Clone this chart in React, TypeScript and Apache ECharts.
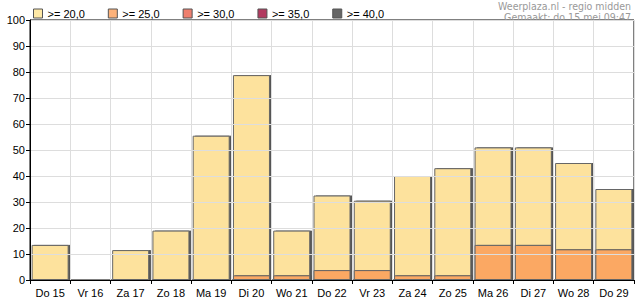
import React, { useEffect, useRef } from "react";
import * as echarts from "echarts";

const categories = ["Do 15", "Vr 16", "Za 17", "Zo 18", "Ma 19", "Di 20", "Wo 21", "Do 22", "Vr 23", "Za 24", "Zo 25", "Ma 26", "Di 27", "Wo 28", "Do 29"];
const ge20 = [13.5, 0, 11.5, 19, 55.5, 78.8, 19, 32.5, 30.5, 40, 43, 51, 51, 45, 35];
const ge25 = [0, 0, 0, 0, 0, 1.8, 1.8, 3.8, 3.8, 1.8, 1.8, 13.5, 13.5, 11.8, 11.8];
const legendNames = [">= 20,0", ">= 25,0", ">= 30,0", ">= 35,0", ">= 40,0"];
const legendColors = ["#FFE9A6", "#FDB27A", "#EE7F6E", "#B23A60", "#666666"];
const yTicks = { min: 0, max: 100, interval: 10 };
const headerLines = ["Weerplaza.nl - regio midden", "Gemaakt: do 15 mei 09:47"];

const FONT = "Liberation Sans, Arial, sans-serif";
const NARROW = "'Liberation Sans Narrow', 'Arial Narrow', 'DejaVu Sans Condensed', sans-serif";

const toData = (arr: number[]) =>
  arr.map((v) =>
    v > 0
      ? v
      : { value: "-", itemStyle: { opacity: 0, borderWidth: 0, shadowColor: "rgba(0,0,0,0)" } }
  );

export default function App() {
  const ref = useRef<HTMLDivElement>(null);
  useEffect(() => {
    const chart = echarts.init(ref.current!, null, { renderer: "svg" });
    const barStyle = (color: string) => ({
      color,
      borderColor: "#666",
      borderWidth: 1,
      shadowColor: "#555",
      shadowBlur: 0,
      shadowOffsetX: 2,
      shadowOffsetY: 0,
    });
    chart.setOption({
      animation: false,
      textStyle: { fontFamily: FONT },
      grid: { left: 30, right: 1, top: 20, bottom: 20, show: true, borderColor: "#000", borderWidth: 1 },
      legend: {
        left: 28,
        top: 3,
        itemWidth: 9,
        itemHeight: 9,
        itemGap: 23,
        icon: "rect",
        textStyle: { fontSize: 11, color: "#000", fontFamily: FONT },
        data: legendNames.map((n, i) => ({ name: n, itemStyle: { color: legendColors[i], borderColor: "#555", borderWidth: 1 } })),
        selectedMode: false,
      },
      graphic: [
        { type: "text", right: 4, top: 0, style: { text: headerLines[0], fill: "#999", font: `10.5px ${NARROW}`, lineHeight: 11 } },
        { type: "text", right: 4, top: 11, style: { text: headerLines[1], fill: "#999", font: `10.5px ${NARROW}`, lineHeight: 11 } },
      ],
      xAxis: {
        type: "category",
        data: categories,
        boundaryGap: true,
        z: 5,
        axisLine: { lineStyle: { color: "#000" } },
        axisTick: { show: true, length: 4, lineStyle: { color: "#000" } },
        axisLabel: { color: "#000", fontSize: 11, margin: 7, interval: 0, fontFamily: FONT },
        splitLine: { show: true, lineStyle: { color: "#ddd" } },
      },
      yAxis: {
        type: "value",
        min: yTicks.min,
        max: yTicks.max,
        interval: yTicks.interval,
        z: 5,
        axisLine: { show: true, lineStyle: { color: "#000" } },
        axisTick: { show: true, length: 4, lineStyle: { color: "#000" } },
        axisLabel: { color: "#000", fontSize: 11, margin: 5, fontFamily: FONT },
        splitLine: { show: true, lineStyle: { color: "#ddd" } },
      },
      series: [
        { name: legendNames[0], type: "bar", data: toData(ge20), barWidth: 37, barGap: "-100%", itemStyle: barStyle("#FDE29D"), z: 2 },
        { name: legendNames[1], type: "bar", data: toData(ge25), barWidth: 37, barGap: "-100%", itemStyle: barStyle("#FBA863"), z: 3 },
        { name: legendNames[2], type: "bar", data: [], barWidth: 37, barGap: "-100%", itemStyle: { color: legendColors[2] } },
        { name: legendNames[3], type: "bar", data: [], barWidth: 37, barGap: "-100%", itemStyle: { color: legendColors[3] } },
        { name: legendNames[4], type: "bar", data: [], barWidth: 37, barGap: "-100%", itemStyle: { color: legendColors[4] } },
      ],
    });
    return () => chart.dispose();
  }, []);
  return <div ref={ref} style={{ width: 635, height: 300, position: "absolute", left: 0, top: 0 }} />;
}
